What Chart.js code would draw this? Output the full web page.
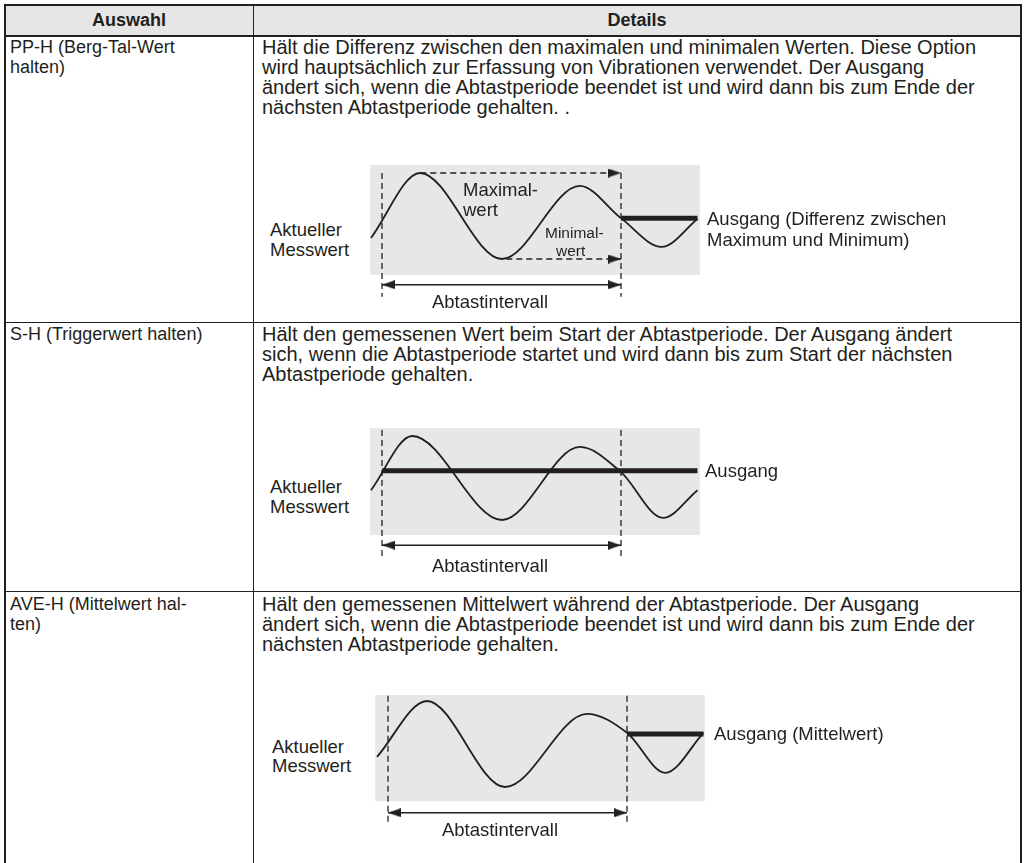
<!DOCTYPE html>
<html lang="de">
<head>
<meta charset="UTF-8" />
<meta name="viewport" content="width=device-width, initial-scale=1.0"/>
<title>Haltefunktionen</title>
<style>
  * {margin:0; padding:0; box-sizing:border-box;}
  body {background:#fff; font-family:'Liberation Sans', Arial, sans-serif; color:#231f20;}
  #page {position:relative; width:1026px; height:863px; overflow:hidden;}
  .ln {position:absolute; background:#231f20;}
  .t {position:absolute; white-space:pre; font-size:18.5px; line-height:20px;}
  .hd {font-weight:bold; font-size:18px;}
  .sel {font-size:18px;}
  .det {font-size:20px;}
  .sm {font-size:15.5px; line-height:19px;}
  canvas {position:absolute;}
</style>
</head>
<body>
<div id="page">
  <div style="position:absolute;left:5px;top:5px;width:1016px;height:31px;background:#e6e6e6"></div>
  <div class="ln" style="left:4px;top:4px;width:1018px;height:2px"></div>
  <div class="ln" style="left:4px;top:35px;width:1018px;height:2px"></div>
  <div class="ln" style="left:4px;top:322px;width:1018px;height:1px"></div>
  <div class="ln" style="left:4px;top:591px;width:1018px;height:1px"></div>
  <div class="ln" style="left:4px;top:4px;width:2px;height:859px"></div>
  <div class="ln" style="left:1020px;top:4px;width:2px;height:859px"></div>
  <div class="ln" style="left:253px;top:4px;width:1px;height:859px"></div>
  <canvas id="ppChart" width="360" height="170"></canvas>
  <canvas id="shChart" width="360" height="170"></canvas>
  <canvas id="aveChart" width="360" height="170"></canvas>
</div>

<script src="https://cdn.jsdelivr.net/npm/chart.js"></script>
<script>
  const INK = '#231f20';

  // table text
  const headers = ['Auswahl', 'Details'];
  const selections = [
    ['PP-H (Berg-Tal-Wert', 'halten)'],
    ['S-H (Triggerwert halten)'],
    ['AVE-H (Mittelwert hal-', 'ten)']
  ];
  const details = [
    ['Hält die Differenz zwischen den maximalen und minimalen Werten. Diese Option',
     'wird hauptsächlich zur Erfassung von Vibrationen verwendet. Der Ausgang',
     'ändert sich, wenn die Abtastperiode beendet ist und wird dann bis zum Ende der',
     'nächsten Abtastperiode gehalten. .'],
    ['Hält den gemessenen Wert beim Start der Abtastperiode. Der Ausgang ändert',
     'sich, wenn die Abtastperiode startet und wird dann bis zum Start der nächsten',
     'Abtastperiode gehalten.'],
    ['Hält den gemessenen Mittelwert während der Abtastperiode. Der Ausgang',
     'ändert sich, wenn die Abtastperiode beendet ist und wird dann bis zum Ende der',
     'nächsten Abtastperiode gehalten.']
  ];

  // wave samples: t = time (0..1 = Abtastintervall), y = signal (peak = 1)
  const ppWaveT = [-0.046, 0.159, 0.502, 0.828, 1.0, 1.17, 1.32];
  const ppWaveY = [-0.51, 1.0, -1.0, 0.70, -0.05, -0.72, -0.07];
  const ppOutT = [1.0, 1.32];
  const ppOutY = -0.05;
  const ppMaxT = [0.16, 1.0];
  const ppMaxY = 1.0;
  const ppMinT = [0.52, 1.0];
  const ppMinY = -1.0;

  const shWaveT = [-0.046, 0.126, 0.502, 0.828, 1.0, 1.176, 1.32];
  const shWaveY = [-0.29, 1.0, -1.0, 0.74, 0.14, -0.95, -0.29];
  const shOutT = [0, 1.32];
  const shOutY = 0.17;

  const aveWaveT = [-0.046, 0.163, 0.49, 0.833, 1.0, 1.16, 1.32];
  const aveWaveY = [-0.30, 1.0, -1.0, 0.70, 0.26, -0.67, 0.26];
  const aveOutT = [1.0, 1.32];
  const aveOutY = 0.23;

  const intervalT = [0, 1];

  const page = document.getElementById('page');
  function put(text, x, y, cls, center) {
    const d = document.createElement('div');
    d.className = 't ' + (cls || '');
    d.textContent = text;
    d.style.left = x + 'px';
    d.style.top = (y - 10) + 'px';
    if (center) d.style.transform = 'translateX(-50%)';
    page.appendChild(d);
  }
  function lines(arr, x, y, step, cls) {
    arr.forEach((s, i) => put(s, x, y + i * step, cls));
  }

  put(headers[0], 129, 20, 'hd', true);
  put(headers[1], 637, 20, 'hd', true);
  const rowY = [47, 334, 604];
  selections.forEach((s, i) => lines(s, 10, rowY[i], 20, 'sel'));
  details.forEach((s, i) => lines(s, 262, rowY[i], 20, 'det'));

  // diagram labels
  lines(['Aktueller', 'Messwert'], 270, 230, 20);
  lines(['Maximal-', 'wert'], 463, 190, 20);
  put('Minimal-', 545, 233, 'sm');
  put('wert', 556, 251, 'sm');
  lines(['Ausgang (Differenz zwischen', 'Maximum und Minimum)'], 707, 219, 21);
  put('Abtastintervall', 490, 302, '', true);

  lines(['Aktueller', 'Messwert'], 270, 487, 20);
  put('Ausgang', 705, 471);
  put('Abtastintervall', 490, 566, '', true);

  lines(['Aktueller', 'Messwert'], 272, 747, 19);
  put('Ausgang (Mittelwert)', 714, 734);
  put('Abtastintervall', 500, 830, '', true);

  function arrowImage(len, h) {
    const c = document.createElement('canvas');
    c.width = len * 2; c.height = h;
    const g = c.getContext('2d');
    g.fillStyle = INK;
    g.beginPath(); g.moveTo(0, 0); g.lineTo(len, h / 2); g.lineTo(0, h); g.closePath(); g.fill();
    return c;
  }
  const arrowHead = arrowImage(13, 9);

  const greyBox = {
    id: 'greyBox',
    beforeDatasetsDraw(chart, args, opts) {
      const {ctx, scales: {x, y}} = chart;
      const l = x.getPixelForValue(opts.t0), r = x.getPixelForValue(opts.t1);
      const tp = y.getPixelForValue(opts.top), bt = y.getPixelForValue(opts.bottom);
      ctx.save();
      ctx.fillStyle = '#e6e7e8';
      ctx.fillRect(l, tp, r - l, bt - tp);
      ctx.restore();
    }
  };

  const pts = (ts, ys) => ts.map((t, i) => ({x: t, y: Array.isArray(ys) ? ys[i] : ys}));

  function makeDiagram(id, lay, waveT, waveY, outT, outY, extra) {
    const cv = document.getElementById(id);
    cv.style.left = lay.left + 'px';
    cv.style.top = lay.top + 'px';
    const sx = 239, sy = lay.amp;
    const datasets = [
      {data: pts(outT, outY), borderWidth: 5},
      {data: pts(waveT, waveY), borderWidth: 1.8, cubicInterpolationMode: 'monotone'},
      {data: pts(intervalT, lay.arrowY), borderWidth: 1.6,
       pointStyle: arrowHead, pointRadius: 6, pointRotation: [180, 0]},
      {data: pts([0, 0], [lay.dashTop, lay.dashBottom]), borderWidth: 1.3, borderDash: [6, 4]},
      {data: pts([1, 1], [lay.dashTop, lay.dashBottom]), borderWidth: 1.3, borderDash: [6, 4]}
    ].concat(extra || []);
    datasets.forEach(d => {
      d.borderColor = INK;
      d.clip = false;
      if (d.pointRadius === undefined) d.pointRadius = 0;
    });
    return new Chart(cv, {
      type: 'line',
      data: {datasets},
      options: {
        responsive: false,
        animation: false,
        events: [],
        layout: {padding: 0, autoPadding: false},
        plugins: {legend: {display: false}, tooltip: {enabled: false}, greyBox: lay.box},
        scales: {
          x: {type: 'linear', display: false,
              min: (lay.left - lay.x0) / sx, max: (lay.left + cv.width - lay.x0) / sx},
          y: {type: 'linear', display: false,
              max: (lay.y0 - lay.top) / sy, min: (lay.y0 - lay.top - cv.height) / sy}
        }
      },
      plugins: [greyBox]
    });
  }

  makeDiagram('ppChart',
    {left: 355, top: 150, x0: 382, y0: 216, amp: 43, arrowY: -1.6, dashTop: 1.0, dashBottom: -1.88,
     box: {t0: -0.05, t1: 1.33, top: 1.19, bottom: -1.37}},
    ppWaveT, ppWaveY, ppOutT, ppOutY,
    [
      {data: pts(ppMaxT, ppMaxY), borderWidth: 1.3, borderDash: [6, 4],
       pointStyle: arrowHead, pointRadius: [0, 6], pointRotation: 0},
      {data: pts(ppMinT, ppMinY), borderWidth: 1.3, borderDash: [6, 4],
       pointStyle: arrowHead, pointRadius: [0, 6], pointRotation: 0}
    ]);

  makeDiagram('shChart',
    {left: 355, top: 415, x0: 382, y0: 478, amp: 42, arrowY: -1.6, dashTop: 1.14, dashBottom: -1.88,
     box: {t0: -0.05, t1: 1.33, top: 1.19, bottom: -1.36}},
    shWaveT, shWaveY, shOutT, shOutY);

  makeDiagram('aveChart',
    {left: 360, top: 680, x0: 388, y0: 744, amp: 43, arrowY: -1.6, dashTop: 1.12, dashBottom: -1.84,
     box: {t0: -0.054, t1: 1.326, top: 1.14, bottom: -1.33}},
    aveWaveT, aveWaveY, aveOutT, aveOutY);
</script>
</body>
</html>
